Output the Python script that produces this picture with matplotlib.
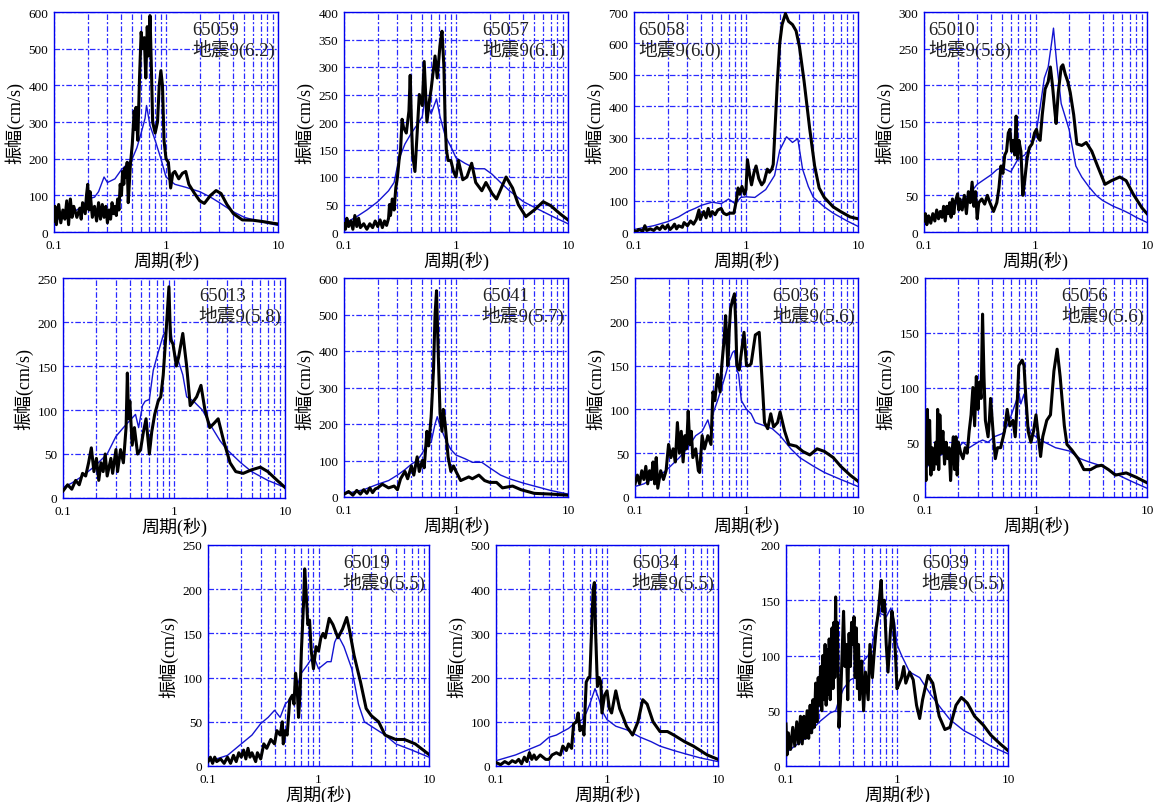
import numpy as np
import matplotlib
matplotlib.use("Agg")
import matplotlib.pyplot as plt
from matplotlib.ticker import FixedLocator, NullFormatter

# ---- data: period (s) / amplitude (cm/s) ----
# 65059
t1k = [0.1, 0.102, 0.105, 0.11, 0.115, 0.12, 0.125, 0.13, 0.135, 0.14, 0.145, 0.15, 0.16, 0.17, 0.175, 0.18, 0.19, 0.195, 0.2, 0.205, 0.21, 0.22, 0.23, 0.24, 0.25, 0.26, 0.27, 0.28, 0.29, 0.3, 0.31, 0.32, 0.33, 0.34, 0.35, 0.36, 0.37, 0.38, 0.39, 0.4, 0.41, 0.42, 0.43, 0.44, 0.45, 0.46, 0.48, 0.5, 0.52, 0.53, 0.54, 0.56, 0.58, 0.6, 0.62, 0.64, 0.66, 0.68, 0.7, 0.72, 0.74, 0.76, 0.8, 0.84, 0.87, 0.9, 0.93, 0.96, 1.0, 1.05, 1.1, 1.15, 1.2, 1.3, 1.4, 1.5, 1.6, 1.8, 2.0, 2.2, 2.5, 2.8, 3.1, 3.5, 4.0, 4.8, 6.0, 7.5, 9.0, 10.0]
a1k = [30, 70, 20, 75, 25, 60, 35, 85, 20, 90, 40, 70, 40, 65, 35, 80, 50, 100, 130, 60, 110, 40, 70, 30, 80, 35, 75, 40, 70, 25, 60, 35, 80, 50, 70, 45, 90, 60, 130, 100, 165, 130, 175, 150, 190, 80, 180, 240, 330, 280, 340, 250, 420, 545, 500, 530, 420, 560, 480, 590, 450, 300, 270, 300, 400, 440, 400, 250, 200, 190, 120, 160, 165, 145, 160, 165, 130, 105, 85, 78, 100, 113, 105, 75, 50, 33, 32, 28, 24, 22]
t1b = [0.1, 0.12, 0.15, 0.18, 0.2, 0.23, 0.25, 0.28, 0.3, 0.35, 0.4, 0.45, 0.5, 0.55, 0.6, 0.65, 0.67, 0.72, 0.8, 0.9, 1.0, 1.2, 1.5, 2.0, 2.5, 3.0, 4.0, 5.0, 7.0, 10.0]
a1b = [30, 42, 55, 70, 90, 95, 110, 150, 135, 145, 170, 185, 200, 230, 270, 310, 345, 290, 250, 200, 150, 130, 122, 110, 95, 80, 55, 40, 28, 18]

# 65057
t2k = [0.1, 0.103, 0.106, 0.11, 0.115, 0.12, 0.125, 0.13, 0.135, 0.14, 0.15, 0.16, 0.17, 0.18, 0.19, 0.2, 0.21, 0.22, 0.23, 0.24, 0.25, 0.255, 0.26, 0.27, 0.28, 0.29, 0.3, 0.31, 0.32, 0.33, 0.34, 0.36, 0.38, 0.39, 0.4, 0.41, 0.43, 0.45, 0.47, 0.5, 0.52, 0.55, 0.58, 0.6, 0.65, 0.68, 0.72, 0.75, 0.78, 0.8, 0.82, 0.85, 0.9, 0.95, 1.0, 1.05, 1.15, 1.25, 1.38, 1.5, 1.7, 1.85, 2.1, 2.3, 2.8, 3.2, 3.6, 4.2, 5.0, 6.0, 7.0, 8.5, 10.0]
a2k = [15, 5, 25, 10, 20, 5, 30, 10, 25, 8, 15, 5, 15, 8, 20, 10, 22, 8, 20, 12, 25, 50, 30, 60, 40, 80, 100, 130, 150, 205, 190, 180, 220, 285, 200, 140, 110, 180, 250, 230, 310, 200, 240, 260, 320, 280, 340, 365, 300, 200, 150, 130, 130, 110, 100, 130, 95, 100, 125, 90, 75, 90, 70, 60, 100, 80, 50, 28, 40, 55, 48, 33, 22]
t2b = [0.1, 0.13, 0.16, 0.2, 0.25, 0.28, 0.3, 0.32, 0.35, 0.4, 0.45, 0.5, 0.53, 0.6, 0.67, 0.72, 0.8, 0.9, 1.0, 1.2, 1.5, 1.8, 2.1, 2.5, 3.0, 4.0, 5.0, 7.0, 10.0]
a2b = [15, 28, 40, 55, 75, 90, 120, 140, 160, 180, 195, 210, 245, 215, 242, 210, 175, 155, 135, 125, 115, 115, 105, 90, 75, 55, 45, 30, 15]

# 65058
t3k = [0.1, 0.105, 0.11, 0.12, 0.125, 0.13, 0.14, 0.15, 0.16, 0.17, 0.18, 0.19, 0.2, 0.21, 0.22, 0.23, 0.24, 0.25, 0.27, 0.28, 0.3, 0.32, 0.34, 0.36, 0.38, 0.39, 0.42, 0.44, 0.46, 0.48, 0.5, 0.53, 0.56, 0.6, 0.63, 0.67, 0.72, 0.78, 0.82, 0.85, 0.88, 0.92, 0.97, 1.0, 1.03, 1.08, 1.12, 1.18, 1.23, 1.3, 1.38, 1.45, 1.55, 1.62, 1.7, 1.75, 1.8, 1.9, 2.0, 2.1, 2.25, 2.4, 2.6, 2.8, 3.0, 3.3, 3.7, 4.1, 4.5, 5.0, 6.0, 7.0, 8.5, 10.0]
a3k = [5, 0, 8, 3, 20, 5, 10, 5, 15, 8, 20, 10, 22, 8, 15, 25, 10, 20, 15, 30, 20, 35, 25, 40, 70, 40, 65, 45, 75, 50, 65, 55, 70, 75, 60, 55, 60, 60, 100, 140, 120, 145, 120, 135, 230, 180, 150, 190, 210, 170, 150, 160, 200, 190, 200, 215, 300, 470, 600, 660, 695, 670, 660, 640, 590, 480, 330, 210, 140, 110, 80, 65, 48, 42]
t3b = [0.1, 0.15, 0.2, 0.25, 0.3, 0.35, 0.4, 0.5, 0.6, 0.7, 0.8, 0.9, 1.0, 1.2, 1.5, 1.8, 2.0, 2.3, 2.6, 2.9, 3.2, 3.6, 4.0, 5.0, 6.0, 8.0, 10.0]
a3b = [8, 20, 33, 48, 65, 75, 85, 95, 90, 105, 90, 110, 112, 110, 135, 180, 260, 303, 285, 297, 200, 145, 110, 80, 60, 35, 18]

# 65010
t4k = [0.1, 0.103, 0.106, 0.11, 0.115, 0.12, 0.125, 0.13, 0.135, 0.14, 0.145, 0.15, 0.155, 0.16, 0.165, 0.17, 0.175, 0.18, 0.185, 0.19, 0.2, 0.205, 0.21, 0.22, 0.23, 0.24, 0.25, 0.26, 0.27, 0.28, 0.29, 0.3, 0.31, 0.33, 0.35, 0.37, 0.39, 0.42, 0.45, 0.47, 0.49, 0.51, 0.53, 0.55, 0.57, 0.59, 0.61, 0.63, 0.65, 0.67, 0.69, 0.71, 0.74, 0.77, 0.8, 0.84, 0.88, 0.93, 0.98, 1.02, 1.06, 1.1, 1.15, 1.22, 1.3, 1.36, 1.42, 1.48, 1.53, 1.6, 1.7, 1.76, 1.85, 1.95, 2.05, 2.2, 2.35, 2.6, 2.85, 3.2, 3.6, 4.2, 4.8, 5.7, 6.5, 7.5, 9.0, 10.0]
a4k = [15, 25, 10, 22, 12, 25, 15, 30, 18, 28, 20, 35, 15, 35, 25, 40, 20, 45, 25, 40, 52, 30, 45, 30, 50, 25, 55, 40, 68, 35, 55, 18, 40, 45, 38, 50, 40, 28, 40, 60, 90, 80, 105, 110, 135, 140, 110, 125, 105, 158, 100, 125, 110, 50, 70, 100, 115, 120, 135, 140, 128, 125, 160, 195, 205, 225, 200, 170, 148, 190, 225, 228, 215, 205, 190, 160, 120, 118, 122, 110, 90, 65, 70, 75, 70, 52, 33, 25]
t4b = [0.1, 0.15, 0.2, 0.25, 0.3, 0.35, 0.4, 0.45, 0.5, 0.6, 0.7, 0.8, 0.9, 1.0, 1.1, 1.2, 1.3, 1.4, 1.45, 1.55, 1.7, 2.0, 2.3, 2.6, 3.0, 3.5, 4.0, 5.0, 6.0, 7.0, 8.0, 10.0]
a4b = [13, 25, 40, 50, 65, 72, 78, 85, 88, 82, 100, 105, 115, 130, 170, 210, 225, 260, 278, 230, 175, 140, 90, 75, 62, 50, 43, 35, 30, 25, 20, 13]

# 65013
t5k = [0.1, 0.11, 0.12, 0.13, 0.14, 0.15, 0.16, 0.17, 0.18, 0.19, 0.2, 0.21, 0.22, 0.23, 0.24, 0.25, 0.27, 0.28, 0.3, 0.31, 0.33, 0.35, 0.37, 0.38, 0.39, 0.4, 0.42, 0.44, 0.47, 0.5, 0.53, 0.56, 0.6, 0.63, 0.67, 0.72, 0.76, 0.8, 0.85, 0.9, 0.93, 0.98, 1.05, 1.1, 1.2, 1.3, 1.4, 1.5, 1.6, 1.75, 1.9, 2.1, 2.3, 2.5, 2.8, 3.2, 3.6, 4.2, 5.0, 6.0, 7.0, 8.5, 10.0]
a5k = [8, 15, 10, 20, 15, 28, 25, 40, 57, 30, 45, 20, 40, 30, 50, 25, 45, 28, 55, 30, 55, 40, 80, 142, 90, 110, 60, 80, 50, 55, 75, 90, 50, 75, 95, 110, 115, 140, 190, 240, 180, 175, 150, 160, 187, 150, 105, 110, 115, 128, 100, 80, 85, 90, 65, 40, 30, 28, 32, 35, 30, 20, 12]
t5b = [0.1, 0.12, 0.15, 0.18, 0.2, 0.25, 0.3, 0.35, 0.4, 0.45, 0.48, 0.52, 0.55, 0.6, 0.65, 0.7, 0.8, 0.85, 0.9, 0.95, 1.0, 1.1, 1.2, 1.3, 1.5, 1.8, 2.2, 2.6, 3.0, 4.0, 5.0, 7.0, 10.0]
a5b = [12, 17, 25, 33, 38, 50, 70, 80, 88, 95, 80, 105, 110, 112, 145, 160, 185, 190, 210, 185, 165, 155, 140, 115, 110, 100, 80, 65, 55, 40, 30, 20, 12]

# 65041
t6k = [0.1, 0.11, 0.12, 0.13, 0.14, 0.15, 0.16, 0.17, 0.18, 0.19, 0.2, 0.22, 0.25, 0.28, 0.3, 0.32, 0.35, 0.37, 0.4, 0.42, 0.45, 0.47, 0.5, 0.52, 0.55, 0.57, 0.6, 0.63, 0.65, 0.67, 0.69, 0.72, 0.75, 0.77, 0.8, 0.85, 0.9, 0.95, 1.0, 1.1, 1.3, 1.4, 1.6, 1.8, 2.0, 2.3, 2.6, 3.2, 3.8, 5.0, 7.0, 10.0]
a6k = [8, 15, 5, 18, 8, 20, 10, 25, 12, 22, 25, 35, 25, 30, 20, 50, 70, 50, 85, 60, 110, 70, 100, 80, 180, 140, 220, 350, 500, 565, 420, 230, 180, 240, 200, 110, 70, 85, 70, 45, 55, 50, 60, 45, 40, 40, 25, 30, 20, 10, 8, 5]
t6b = [0.1, 0.15, 0.2, 0.25, 0.3, 0.35, 0.4, 0.45, 0.5, 0.55, 0.6, 0.65, 0.68, 0.72, 0.8, 0.9, 1.0, 1.2, 1.4, 1.7, 2.0, 2.5, 3.0, 4.0, 5.0, 7.0, 10.0]
a6b = [8, 20, 35, 45, 60, 75, 90, 100, 120, 145, 150, 200, 220, 195, 160, 130, 115, 105, 95, 95, 80, 60, 50, 38, 30, 18, 8]

# 65036
t7k = [0.1, 0.105, 0.11, 0.115, 0.12, 0.125, 0.13, 0.135, 0.14, 0.145, 0.15, 0.155, 0.16, 0.17, 0.18, 0.19, 0.2, 0.21, 0.22, 0.23, 0.24, 0.25, 0.26, 0.27, 0.28, 0.29, 0.3, 0.31, 0.32, 0.33, 0.35, 0.37, 0.38, 0.4, 0.42, 0.45, 0.48, 0.5, 0.52, 0.55, 0.58, 0.6, 0.63, 0.65, 0.68, 0.7, 0.72, 0.75, 0.78, 0.8, 0.82, 0.86, 0.9, 0.95, 1.0, 1.05, 1.1, 1.2, 1.3, 1.4, 1.45, 1.55, 1.65, 1.75, 1.9, 2.0, 2.2, 2.4, 2.8, 3.2, 3.7, 4.3, 5.0, 6.0, 7.0, 8.5, 10.0]
a7k = [15, 25, 15, 30, 20, 35, 15, 30, 20, 40, 15, 45, 10, 30, 20, 30, 60, 45, 55, 40, 85, 50, 75, 40, 70, 55, 98, 60, 75, 45, 55, 30, 28, 70, 55, 70, 60, 120, 110, 140, 120, 150, 180, 207, 150, 190, 215, 225, 232, 200, 150, 145, 165, 188, 150, 150, 152, 185, 188, 120, 85, 78, 95, 80, 85, 97, 75, 60, 58, 52, 48, 55, 52, 45, 35, 25, 18]
t7b = [0.1, 0.12, 0.15, 0.18, 0.2, 0.25, 0.3, 0.35, 0.4, 0.45, 0.48, 0.5, 0.55, 0.6, 0.65, 0.7, 0.75, 0.78, 0.82, 0.85, 0.9, 1.0, 1.1, 1.2, 1.4, 1.7, 2.0, 2.5, 3.0, 4.0, 5.0, 7.0, 10.0]
a7b = [12, 15, 22, 28, 33, 45, 57, 70, 75, 88, 75, 95, 110, 125, 140, 155, 165, 167, 145, 140, 110, 100, 95, 85, 82, 78, 70, 55, 45, 35, 28, 20, 12]

# 65056
t8k = [0.1, 0.102, 0.105, 0.108, 0.11, 0.113, 0.116, 0.12, 0.125, 0.128, 0.13, 0.133, 0.136, 0.14, 0.145, 0.15, 0.155, 0.16, 0.165, 0.17, 0.175, 0.18, 0.185, 0.19, 0.195, 0.2, 0.21, 0.22, 0.23, 0.24, 0.25, 0.26, 0.27, 0.28, 0.29, 0.3, 0.31, 0.32, 0.33, 0.34, 0.35, 0.37, 0.38, 0.39, 0.41, 0.43, 0.45, 0.48, 0.52, 0.55, 0.58, 0.62, 0.65, 0.68, 0.7, 0.75, 0.78, 0.8, 0.85, 0.9, 0.95, 1.0, 1.05, 1.1, 1.15, 1.25, 1.35, 1.45, 1.55, 1.65, 1.8, 1.9, 2.1, 2.4, 2.7, 3.1, 3.5, 3.9, 4.5, 5.2, 6.5, 8.0, 10.0]
a8k = [40, 15, 80, 30, 70, 20, 45, 25, 50, 30, 80, 25, 75, 40, 60, 30, 50, 35, 45, 15, 40, 55, 25, 55, 20, 50, 40, 35, 45, 40, 60, 75, 100, 65, 110, 80, 105, 90, 167, 110, 70, 55, 70, 90, 60, 35, 45, 45, 60, 80, 65, 70, 55, 90, 120, 125, 120, 100, 60, 50, 60, 75, 55, 37, 55, 70, 75, 115, 135, 110, 65, 48, 43, 35, 25, 25, 28, 29, 25, 20, 22, 18, 13]
t8b = [0.1, 0.12, 0.15, 0.2, 0.22, 0.25, 0.3, 0.33, 0.37, 0.42, 0.5, 0.55, 0.6, 0.65, 0.7, 0.73, 0.78, 0.85, 0.9, 1.0, 1.2, 1.5, 2.0, 2.5, 3.0, 4.0, 5.0, 7.0, 10.0]
a8b = [25, 35, 40, 45, 50, 45, 50, 52, 50, 55, 58, 65, 75, 85, 95, 85, 94, 65, 58, 55, 50, 45, 42, 35, 32, 28, 22, 15, 8]

# 65019
t9k = [0.1, 0.105, 0.11, 0.115, 0.12, 0.13, 0.14, 0.15, 0.16, 0.17, 0.18, 0.19, 0.2, 0.21, 0.22, 0.23, 0.24, 0.25, 0.27, 0.28, 0.3, 0.32, 0.34, 0.37, 0.4, 0.42, 0.45, 0.47, 0.48, 0.5, 0.52, 0.55, 0.58, 0.6, 0.62, 0.64, 0.66, 0.68, 0.7, 0.73, 0.75, 0.77, 0.8, 0.83, 0.86, 0.9, 0.95, 1.0, 1.05, 1.1, 1.15, 1.25, 1.35, 1.5, 1.65, 1.8, 1.9, 2.1, 2.4, 2.7, 3.0, 3.5, 4.0, 5.0, 6.0, 7.5, 10.0]
a9k = [5, 10, 3, 10, 5, 8, 3, 10, 3, 12, 5, 15, 10, 18, 8, 20, 10, 15, 5, 15, 8, 25, 20, 30, 25, 40, 35, 50, 25, 40, 35, 75, 80, 70, 105, 90, 55, 80, 130, 180, 223, 200, 160, 165, 130, 110, 135, 130, 145, 150, 145, 167, 160, 145, 155, 168, 155, 125, 95, 65, 57, 50, 35, 30, 30, 25, 13]
t9b = [0.1, 0.15, 0.2, 0.25, 0.3, 0.35, 0.4, 0.45, 0.5, 0.6, 0.7, 0.8, 0.9, 1.0, 1.2, 1.3, 1.4, 1.5, 1.7, 2.0, 2.3, 2.6, 3.0, 4.0, 5.0, 7.0, 10.0]
a9b = [5, 12, 25, 35, 48, 55, 63, 55, 70, 80, 105, 115, 125, 110, 118, 118, 140, 148, 135, 110, 70, 50, 45, 35, 25, 18, 10]

# 65034
t10k = [0.1, 0.11, 0.12, 0.13, 0.14, 0.15, 0.16, 0.17, 0.18, 0.19, 0.2, 0.21, 0.22, 0.23, 0.25, 0.28, 0.3, 0.32, 0.35, 0.38, 0.4, 0.43, 0.45, 0.48, 0.5, 0.53, 0.55, 0.57, 0.6, 0.62, 0.65, 0.68, 0.7, 0.73, 0.75, 0.77, 0.79, 0.82, 0.85, 0.88, 0.9, 0.95, 1.0, 1.05, 1.1, 1.2, 1.3, 1.4, 1.5, 1.7, 1.9, 2.1, 2.3, 2.6, 3.0, 3.5, 4.0, 5.0, 6.0, 8.0, 10.0]
a10k = [8, 3, 10, 5, 12, 8, 15, 5, 20, 10, 30, 15, 25, 15, 25, 15, 15, 25, 30, 25, 45, 35, 50, 40, 95, 100, 120, 80, 90, 70, 190, 200, 200, 320, 400, 415, 300, 180, 200, 190, 120, 160, 170, 130, 120, 170, 130, 110, 90, 70, 100, 150, 140, 100, 78, 78, 70, 55, 45, 25, 15]
t10b = [0.1, 0.15, 0.2, 0.25, 0.3, 0.35, 0.4, 0.45, 0.5, 0.55, 0.6, 0.65, 0.7, 0.78, 0.85, 0.9, 1.0, 1.2, 1.5, 2.0, 2.5, 3.0, 4.0, 5.0, 7.0, 10.0]
a10b = [12, 25, 38, 48, 65, 70, 78, 85, 95, 100, 105, 120, 140, 175, 150, 125, 105, 90, 82, 65, 55, 45, 35, 28, 18, 10]

# 65039
t11k = [0.1, 0.102, 0.105, 0.11, 0.115, 0.12, 0.125, 0.13, 0.135, 0.14, 0.145, 0.15, 0.155, 0.16, 0.165, 0.17, 0.175, 0.18, 0.185, 0.19, 0.195, 0.2, 0.205, 0.21, 0.215, 0.22, 0.225, 0.23, 0.235, 0.24, 0.245, 0.25, 0.26, 0.265, 0.27, 0.275, 0.28, 0.285, 0.29, 0.3, 0.31, 0.32, 0.33, 0.34, 0.35, 0.36, 0.37, 0.38, 0.39, 0.4, 0.41, 0.42, 0.43, 0.44, 0.45, 0.46, 0.48, 0.5, 0.52, 0.55, 0.57, 0.6, 0.62, 0.65, 0.68, 0.7, 0.72, 0.74, 0.77, 0.8, 0.83, 0.87, 0.9, 0.93, 0.97, 1.0, 1.05, 1.1, 1.15, 1.2, 1.3, 1.4, 1.5, 1.6, 1.7, 1.9, 2.1, 2.4, 2.7, 3.0, 3.4, 3.8, 4.3, 5.0, 6.0, 7.0, 8.5, 10.0]
a11k = [38, 10, 30, 15, 35, 18, 40, 20, 45, 20, 45, 25, 50, 25, 55, 30, 60, 35, 75, 40, 80, 55, 90, 50, 100, 60, 110, 55, 105, 65, 115, 60, 125, 70, 130, 80, 153, 90, 130, 35, 60, 100, 140, 90, 110, 60, 120, 90, 130, 110, 135, 80, 125, 70, 110, 60, 95, 50, 85, 60, 110, 80, 100, 125, 140, 155, 168, 140, 150, 110, 85, 120, 140, 130, 100, 70, 75, 80, 90, 75, 85, 78, 55, 43, 60, 82, 75, 45, 33, 35, 55, 62, 57, 45, 37, 28, 20, 14]
t11b = [0.1, 0.12, 0.15, 0.18, 0.2, 0.25, 0.28, 0.3, 0.33, 0.38, 0.42, 0.45, 0.5, 0.55, 0.6, 0.65, 0.7, 0.75, 0.8, 0.88, 0.95, 1.0, 1.1, 1.3, 1.6, 2.0, 2.5, 3.0, 4.0, 5.0, 7.0, 10.0]
a11b = [12, 18, 25, 35, 40, 48, 50, 60, 70, 78, 80, 78, 95, 100, 110, 130, 138, 137, 135, 143, 130, 110, 100, 85, 80, 65, 52, 42, 32, 27, 18, 11]

stations = ["65059", "65057", "65058", "65010", "65013", "65041",
            "65036", "65056", "65019", "65034", "65039"]
quakes = ["地震9(6.2)", "地震9(6.1)", "地震9(6.0)", "地震9(5.8)", "地震9(5.8)", "地震9(5.7)",
          "地震9(5.6)", "地震9(5.6)", "地震9(5.5)", "地震9(5.5)", "地震9(5.5)"]
ymax = [600, 400, 700, 300, 250, 600, 250, 200, 250, 500, 200]
ystep = [100, 50, 100, 50, 50, 100, 50, 50, 50, 100, 50]
black = [(t1k, a1k), (t2k, a2k), (t3k, a3k), (t4k, a4k), (t5k, a5k), (t6k, a6k),
         (t7k, a7k), (t8k, a8k), (t9k, a9k), (t10k, a10k), (t11k, a11k)]
blue = [(t1b, a1b), (t2b, a2b), (t3b, a3b), (t4b, a4b), (t5b, a5b), (t6b, a6b),
        (t7b, a7b), (t8b, a8b), (t9b, a9b), (t10b, a10b), (t11b, a11b)]

# axes boxes in pixels: left, top, right, bottom
boxes = [(54, 13, 278, 233), (344, 13, 568, 233), (634, 13, 858, 233), (924, 13, 1147, 233),
         (63, 279, 285, 499), (344, 279, 568, 498), (635, 279, 858, 498), (925, 279, 1147, 498),
         (208, 546, 429, 767), (496, 546, 718, 767), (786, 546, 1008, 767)]
text_left = [False, False, True, True, False, False, False, False, False, False, False]

W, H = 1156, 803
plt.rcParams['font.family'] = ['Liberation Serif', 'Noto Sans CJK SC']
plt.rcParams['lines.scale_dashes'] = False
fig = plt.figure(figsize=(W / 100, H / 100), dpi=100)
grid_blue = '#2a2aff'
ls_grid = (0, (4, 1.5, 1.5, 1.5))

for i in range(11):
    l, t, r, b = boxes[i]
    ax = fig.add_axes([l / W, 1 - b / H, (r - l) / W, (b - t) / H])
    ax.set_xscale('log')
    ax.set_xlim(0.1, 10)
    ax.set_ylim(0, ymax[i])
    ax.xaxis.set_major_locator(FixedLocator([0.1, 1, 10]))
    ax.set_xticklabels(['0.1', '1', '10'])
    minors = [m * d for d in (0.1, 1) for m in range(2, 10)]
    ax.xaxis.set_minor_locator(FixedLocator(minors))
    ax.xaxis.set_minor_formatter(NullFormatter())
    ax.set_yticks(np.arange(0, ymax[i] + 1, ystep[i]))
    ax.grid(True, which='both', axis='x', color=grid_blue, lw=0.9, ls=ls_grid)
    ax.grid(True, which='major', axis='y', color=grid_blue, lw=0.9, ls=ls_grid)
    ax.tick_params(which='both', length=0, labelsize=9.5)
    ax.tick_params(axis='x', pad=5)
    ax.tick_params(axis='y', pad=4)
    for s in ax.spines.values():
        s.set_color('#0000ee')
        s.set_linewidth(1.0)
    tb, ab = blue[i]
    ax.plot(tb, ab, color='#1414d2', lw=1.0, zorder=3)
    tk, ak = black[i]
    ax.plot(tk, ak, color='black', lw=2.2, solid_joinstyle='round', zorder=4)
    ax.set_xlabel('周期(秒)', fontsize=13, labelpad=0)
    ax.set_ylabel('振幅(cm/s)', fontsize=13, labelpad=3)
    label = stations[i] + '\n' + quakes[i]
    if text_left[i]:
        ax.text(0.02, 0.96, label, transform=ax.transAxes, ha='left', va='top',
                multialignment='left', fontsize=13.5, color='#222222', linespacing=1.05, zorder=5)
    else:
        ax.text(0.985, 0.96, label, transform=ax.transAxes, ha='right', va='top',
                multialignment='left', fontsize=13.5, color='#222222', linespacing=1.05, zorder=5)

fig.savefig('out.png', dpi=100)
